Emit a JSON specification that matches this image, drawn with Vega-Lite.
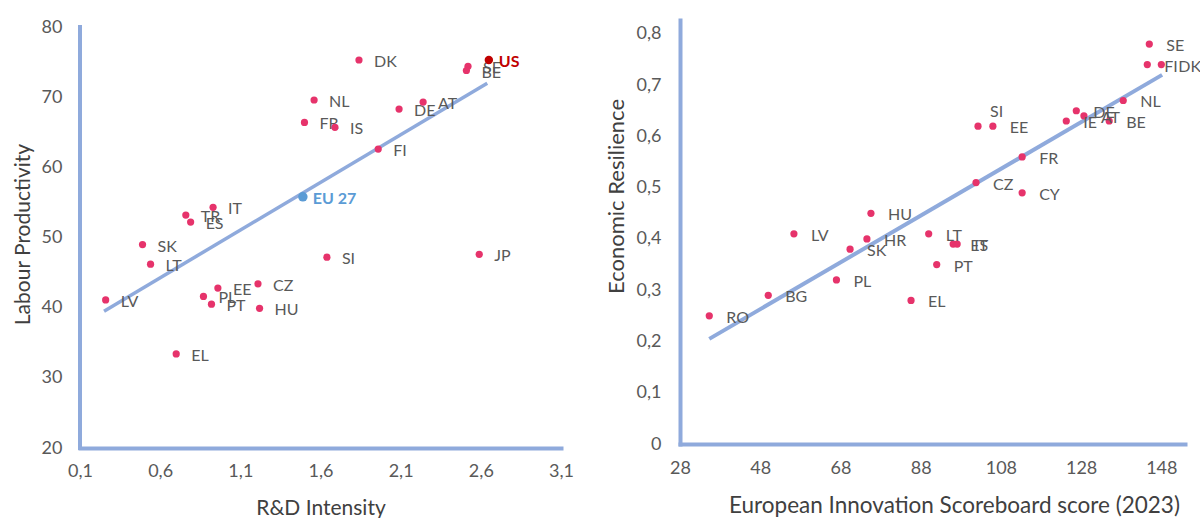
{
  "$schema": "https://vega.github.io/schema/vega-lite/v6.json",
  "autosize": {"type": "none"},
  "padding": {"left": 80, "top": 20, "right": 1120, "bottom": 498},
  "background": "white",
  "spacing": 119,
  "bounds": "flush",
  "config": {
    "view": {"stroke": null},
    "axis": {
      "grid": false,
      "ticks": false,
      "domainColor": "#8FAADC",
      "domainWidth": 4,
      "domainCap": "square",
      "labelFont": "Lato",
      "labelFontSize": 18,
      "labelColor": "#595959",
      "labelOverlap": false,
      "labelFlush": false,
      "titleFont": "Lato",
      "titleFontSize": 21,
      "titleFontWeight": "normal",
      "titleColor": "#404040"
    }
  },
  "datasets": {
    "productivity": [
      {"country": "DK", "rd": 1.84, "prod": 75.3, "kind": "country"},
      {"country": "SE", "rd": 2.52, "prod": 74.4, "kind": "country"},
      {"country": "BE", "rd": 2.51, "prod": 73.8, "kind": "country"},
      {"country": "NL", "rd": 1.56, "prod": 69.6, "kind": "country"},
      {"country": "AT", "rd": 2.24, "prod": 69.3, "kind": "country"},
      {"country": "DE", "rd": 2.09, "prod": 68.3, "kind": "country"},
      {"country": "FR", "rd": 1.5, "prod": 66.4, "kind": "country"},
      {"country": "IS", "rd": 1.69, "prod": 65.7, "kind": "country"},
      {"country": "FI", "rd": 1.96, "prod": 62.6, "kind": "country"},
      {"country": "EU 27", "rd": 1.49, "prod": 55.8, "kind": "EU"},
      {"country": "IT", "rd": 0.93, "prod": 54.3, "kind": "country"},
      {"country": "TR", "rd": 0.76, "prod": 53.2, "kind": "country"},
      {"country": "ES", "rd": 0.79, "prod": 52.2, "kind": "country"},
      {"country": "SK", "rd": 0.49, "prod": 49.0, "kind": "country"},
      {"country": "JP", "rd": 2.59, "prod": 47.6, "kind": "country"},
      {"country": "SI", "rd": 1.64, "prod": 47.2, "kind": "country"},
      {"country": "LT", "rd": 0.54, "prod": 46.2, "kind": "country"},
      {"country": "CZ", "rd": 1.21, "prod": 43.4, "kind": "country"},
      {"country": "EE", "rd": 0.96, "prod": 42.8, "kind": "country"},
      {"country": "PL", "rd": 0.87, "prod": 41.6, "kind": "country"},
      {"country": "LV", "rd": 0.26, "prod": 41.1, "kind": "country"},
      {"country": "PT", "rd": 0.92, "prod": 40.5, "kind": "country"},
      {"country": "HU", "rd": 1.22, "prod": 39.9, "kind": "country"},
      {"country": "EL", "rd": 0.7, "prod": 33.4, "kind": "country"},
      {"country": "US", "rd": 2.65, "prod": 75.3, "kind": "US"}
    ],
    "productivityTrend": [
      {"rd": 0.25, "prod": 39.5},
      {"rd": 2.64, "prod": 72.0}
    ],
    "resilience": [
      {"country": "SE", "eis": 145.0, "res": 0.78},
      {"country": "FI", "eis": 144.5, "res": 0.74},
      {"country": "DK", "eis": 148.0, "res": 0.74},
      {"country": "NL", "eis": 138.5, "res": 0.67},
      {"country": "DE", "eis": 126.8, "res": 0.65},
      {"country": "AT", "eis": 128.7, "res": 0.64},
      {"country": "IE", "eis": 124.3, "res": 0.63},
      {"country": "BE", "eis": 135.0, "res": 0.63},
      {"country": "SI", "eis": 102.3, "res": 0.62},
      {"country": "EE", "eis": 106.0, "res": 0.62},
      {"country": "FR", "eis": 113.3, "res": 0.56},
      {"country": "CZ", "eis": 101.8, "res": 0.51},
      {"country": "CY", "eis": 113.3, "res": 0.49},
      {"country": "HU", "eis": 75.6, "res": 0.45},
      {"country": "LV", "eis": 56.4, "res": 0.41},
      {"country": "LT", "eis": 90.0, "res": 0.41},
      {"country": "HR", "eis": 74.6, "res": 0.40},
      {"country": "ES", "eis": 96.1, "res": 0.39},
      {"country": "IT", "eis": 97.1, "res": 0.39},
      {"country": "SK", "eis": 70.4, "res": 0.38},
      {"country": "PT", "eis": 92.0, "res": 0.35},
      {"country": "PL", "eis": 67.0, "res": 0.32},
      {"country": "BG", "eis": 50.0, "res": 0.29},
      {"country": "EL", "eis": 85.6, "res": 0.28},
      {"country": "RO", "eis": 35.3, "res": 0.25}
    ],
    "resilienceTrend": [
      {"eis": 35.3, "res": 0.205},
      {"eis": 148.2, "res": 0.72}
    ]
  },
  "hconcat": [
    {
      "width": 481,
      "height": 428,
      "layer": [
        {
          "data": {"name": "productivityTrend"},
          "mark": {"type": "line", "color": "#8FAADC", "strokeWidth": 3.5},
          "encoding": {
            "x": {
              "field": "rd",
              "type": "quantitative",
              "scale": {"domain": [0.1, 3.1], "nice": false, "zero": false},
              "axis": {
                "title": "R&D Intensity",
                "values": [0.1, 0.6, 1.1, 1.6, 2.1, 2.6, 3.1],
                "labelExpr": "replace(format(datum.value, '.1f'), '.', ',')",
                "labelPadding": 14,
                "titlePadding": 17
              }
            },
            "y": {
              "field": "prod",
              "type": "quantitative",
              "scale": {"domain": [20, 81], "nice": false, "zero": false},
              "axis": {
                "title": "Labour Productivity",
                "values": [20, 30, 40, 50, 60, 70, 80],
                "domain": false,
                "labelPadding": 18,
                "titlePadding": 8
              }
            }
          }
        },
        {
          "data": {"values": [{"axisAt": 0.1, "from": 20, "to": 80}]},
          "mark": {"type": "rule", "color": "#8FAADC", "strokeWidth": 4, "strokeCap": "square"},
          "encoding": {
            "x": {"field": "axisAt", "type": "quantitative"},
            "y": {"field": "from", "type": "quantitative"},
            "y2": {"field": "to"}
          }
        },
        {
          "data": {"name": "productivity"},
          "transform": [{"filter": "datum.kind === 'country'"}],
          "mark": {"type": "text", "align": "left", "baseline": "middle", "dx": 15, "dy": 2, "font": "Lato", "fontSize": 16, "color": "#595959"},
          "encoding": {
            "x": {"field": "rd", "type": "quantitative"},
            "y": {"field": "prod", "type": "quantitative"},
            "text": {"field": "country"}
          }
        },
        {
          "data": {"name": "productivity"},
          "mark": {"type": "point", "filled": true, "shape": "circle", "opacity": 1},
          "encoding": {
            "x": {"field": "rd", "type": "quantitative"},
            "y": {"field": "prod", "type": "quantitative"},
            "color": {
              "field": "kind",
              "type": "nominal",
              "scale": {"domain": ["country", "US", "EU"], "range": ["#E6336B", "#C00000", "#5B9BD5"]},
              "legend": null
            },
            "size": {
              "field": "kind",
              "type": "nominal",
              "scale": {"domain": ["country", "US", "EU"], "range": [52, 90, 100]},
              "legend": null
            }
          }
        },
        {
          "data": {"name": "productivity"},
          "transform": [{"filter": "datum.kind !== 'country'"}],
          "mark": {"type": "text", "align": "left", "baseline": "middle", "dx": 10, "dy": 2, "font": "Lato", "fontSize": 16, "fontWeight": "bold"},
          "encoding": {
            "x": {"field": "rd", "type": "quantitative"},
            "y": {"field": "prod", "type": "quantitative"},
            "text": {"field": "country"},
            "color": {
              "field": "kind",
              "type": "nominal",
              "scale": {"domain": ["country", "US", "EU"], "range": ["#E6336B", "#C00000", "#5B9BD5"]},
              "legend": null
            }
          }
        }
      ]
    },
    {
      "width": 505,
      "height": 424,
      "encoding": {
        "x": {
          "field": "eis",
          "type": "quantitative",
          "scale": {"domain": [28, 153.9], "nice": false, "zero": false},
          "axis": {
            "title": "European Innovation Scoreboard score (2023)",
            "values": [28, 48, 68, 88, 108, 128, 148],
            "labelPadding": 15,
            "titlePadding": 17,
            "titleFontSize": 22.5,
            "titleX": 274
          }
        },
        "y": {
          "field": "res",
          "type": "quantitative",
          "scale": {"domain": [0, 0.827], "nice": false},
          "axis": {
            "title": "Economic Resilience",
            "values": [0, 0.1, 0.2, 0.3, 0.4, 0.5, 0.6, 0.7, 0.8],
            "labelExpr": "datum.value === 0 ? '0' : replace(format(datum.value, '.1f'), '.', ',')",
            "labelPadding": 19,
            "titlePadding": 8,
            "titleFontSize": 22,
            "titleY": 176
          }
        }
      },
      "layer": [
        {
          "data": {"name": "resilienceTrend"},
          "mark": {"type": "line", "color": "#8FAADC", "strokeWidth": 4}
        },
        {
          "data": {"name": "resilience"},
          "mark": {"type": "point", "filled": true, "shape": "circle", "opacity": 1, "color": "#E6336B", "size": 52}
        },
        {
          "data": {"name": "resilience"},
          "transform": [{"filter": "datum.country !== 'SI'"}],
          "mark": {"type": "text", "align": "left", "baseline": "middle", "dx": 17, "dy": 2, "font": "Lato", "fontSize": 16, "color": "#595959"},
          "encoding": {"text": {"field": "country"}}
        },
        {
          "data": {"name": "resilience"},
          "transform": [{"filter": "datum.country === 'SI'"}],
          "mark": {"type": "text", "align": "left", "baseline": "middle", "dx": 12, "dy": -14, "font": "Lato", "fontSize": 16, "color": "#595959"},
          "encoding": {"text": {"field": "country"}}
        }
      ]
    }
  ]
}
